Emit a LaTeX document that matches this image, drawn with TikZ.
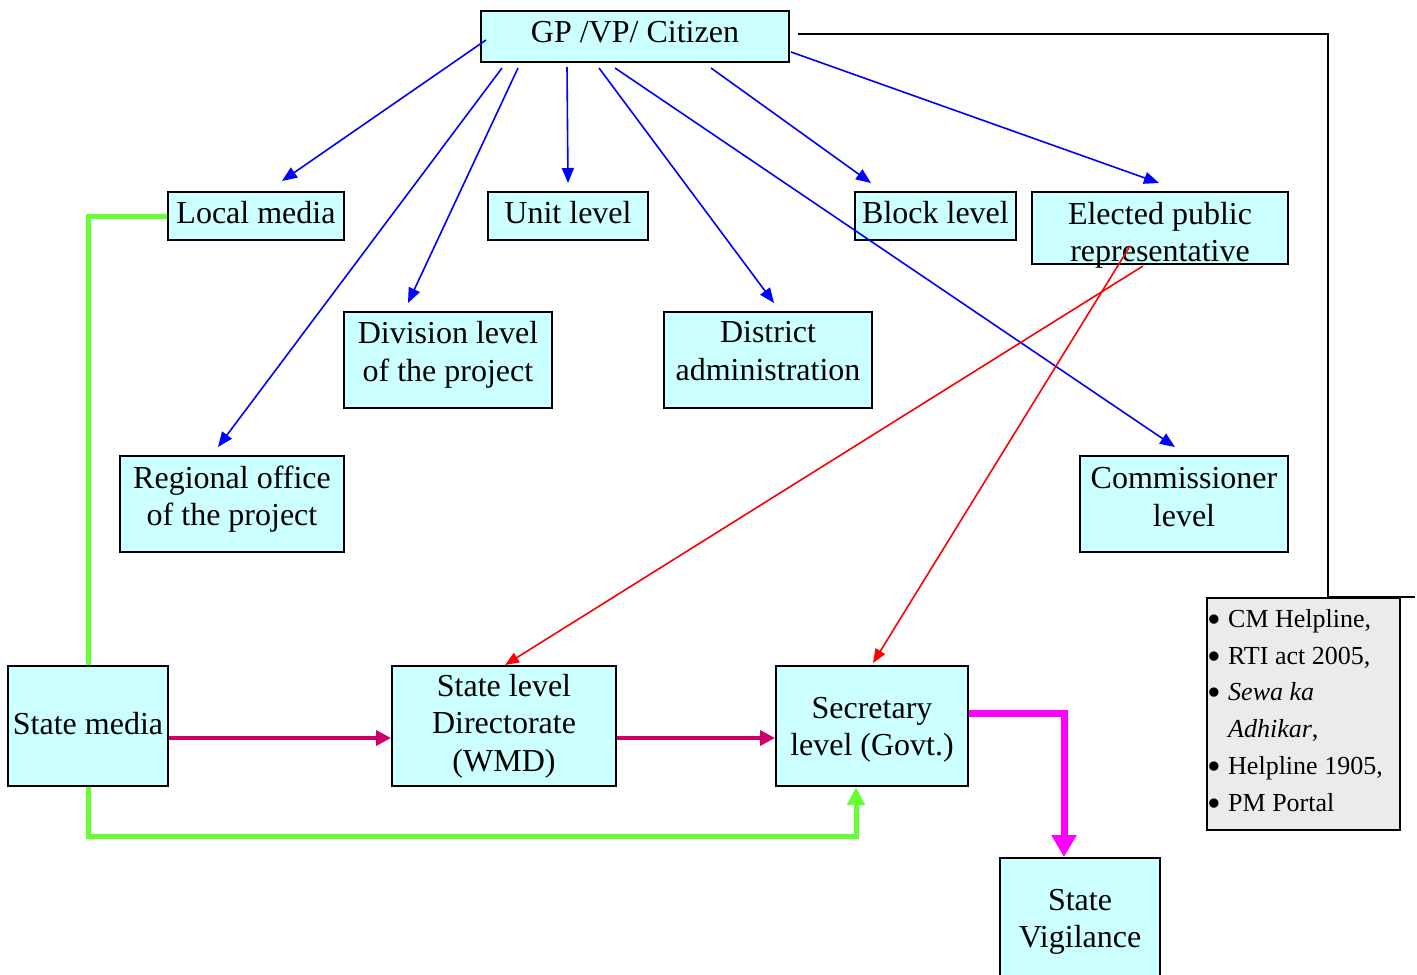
\documentclass[tikz,border=0pt]{standalone}
\usepackage{fontspec}
\setmainfont{Liberation Serif}
\usetikzlibrary{arrows.meta,calc}
\definecolor{boxfill}{HTML}{CCFFFF}
\definecolor{grayfill}{HTML}{EBEBEB}
\definecolor{crimson}{HTML}{CC0066}
\definecolor{lgreen}{HTML}{66FF33}
\definecolor{magen}{HTML}{FF00FF}
\newcommand{\bul}{\makebox[19pt][l]{\hspace*{-1.5pt}\raisebox{-5pt}{\scalebox{1.5}{\textbullet}}}}
\tikzset{
  bx/.style={draw=black, line width=2pt, fill=boxfill, inner sep=0pt},
  bxt/.style={inner sep=0pt, align=center, font=\fontsize{32}{37.5}\selectfont},
  bluearr/.style={draw=blue, line width=1.6pt, -{Triangle[length=15pt,width=12pt]}},
  redarr/.style={draw=red, line width=1.6pt, -{Triangle[length=14pt,width=11pt]}},
  crarr/.style={draw=crimson, line width=3.5pt, -{Triangle[length=15pt,width=15pt]}},
  grline/.style={draw=lgreen, line width=5pt},
  grarr/.style={draw=lgreen, line width=5pt, -{Triangle[length=18pt,width=17pt]}},
  magarr/.style={draw=magen, line width=7pt, -{Triangle[length=22pt,width=24pt]}},
}
\begin{document}
\begin{tikzpicture}[x=1pt,y=-1pt]
\clip (0,0) rectangle (1417,975);
\fill[white] (0,0) rectangle (1417,975);

\node[bx, minimum width=308pt, minimum height=51pt] (gp) at (635,36.5) {};
\node[bxt] (gpt) at ($(gp)+(0,-4)$) {GP /VP/ Citizen};
\node[bx, minimum width=176pt, minimum height=48pt] (local) at (256,216) {};
\node[bxt] (localt) at ($(local)+(0,-3)$) {Local media};
\node[bx, minimum width=160pt, minimum height=48pt] (unit) at (568,216) {};
\node[bxt] (unitt) at ($(unit)+(0,-3)$) {Unit level};
\node[bx, minimum width=161pt, minimum height=48pt] (block) at (935.5,216) {};
\node[bxt] (blockt) at ($(block)+(0,-3)$) {Block level};
\node[bx, minimum width=256pt, minimum height=72pt] (elected) at (1160,228) {};
\node[bxt] (electedt) at ($(elected)+(0,7.5)$) {Elected public\\representative};
\node[bx, minimum width=208pt, minimum height=96pt] (division) at (448,360) {};
\node[bxt] (divisiont) at ($(division)+(0,-5)$) {Division level\\of the project};
\node[bx, minimum width=208pt, minimum height=96pt] (district) at (768,360) {};
\node[bxt] (districtt) at ($(district)+(0,-9)$) {District\\administration};
\node[bx, minimum width=224pt, minimum height=96pt] (regional) at (232,504) {};
\node[bxt] (regionalt) at ($(regional)+(0,-5)$) {Regional office\\of the project};
\node[bx, minimum width=208pt, minimum height=96pt] (commissioner) at (1184,504) {};
\node[bxt] (commissionert) at ($(commissioner)+(0,-7)$) {Commissioner\\level};
\node[bx, minimum width=160pt, minimum height=120pt] (statemedia) at (88,726) {};
\node[bxt] (statemediat) at ($(statemedia)+(0,-2)$) {State media};
\node[bx, minimum width=224pt, minimum height=120pt] (directorate) at (504,726) {};
\node[bxt] (directoratet) at (directorate) {State level\\Directorate\\(WMD)};
\node[bx, minimum width=192pt, minimum height=120pt] (secretary) at (872,726) {};
\node[bxt] (secretaryt) at ($(secretary)+(0,4)$) {Secretary\\level (Govt.)};
\node[bx, minimum width=160pt, minimum height=124pt] (vigilance) at (1080,920) {};
\node[bxt] (vigilancet) at ($(vigilance)+(0,2)$) {State\\Vigilance};
\node[draw=black, line width=2pt, fill=grayfill, minimum width=193pt, minimum height=232pt, inner sep=0pt] (bullet) at (1303.5,714) {};
\node[anchor=north west, inner sep=0pt, align=left, font=\fontsize{26}{36.8}\selectfont] (bullettext) at (1209,609)
 {\bul CM Helpline,\\
  \bul RTI act 2005,\\
  \bul\textit{Sewa ka}\\
  \hspace*{19pt}\textit{Adhikar},\\
  \bul Helpline 1905,\\
  \bul PM Portal};

% black line to bullet box
\draw[black, line width=2pt] ($(gp.east)+(8,-2.5)$) -| ($(bullet.north)+(24.5,0)$) -- ++(87,0);

% blue arrows
\draw[bluearr] ($(gp.west)+(6,3.5)$) -- ($(local.north)+(26,-10)$);
\draw[bluearr] ($(gp.south west)+(22,5)$) -- ($(regional.north)+(-14,-8)$);
\draw[bluearr] ($(gp.south west)+(38,5)$) -- ($(division.north)+(-40,-8)$);
\draw[bluearr] ($(gp.south west)+(87,4)$) -- ($(unit.north)+(0,-8)$);
\draw[bluearr] ($(gp.south west)+(119,5)$) -- ($(district.north)+(6,-8)$);
\draw[bluearr] ($(gp.south west)+(135,5)$) -- ($(commissioner.north)+(-9,-8)$);
\draw[bluearr] ($(gp.south west)+(231,5)$) -- ($(block.north)+(-64.5,-8)$);
\draw[bluearr] ($(gp.east)+(1,15.5)$) -- ($(elected.north)+(-1,-8)$);

% red arrows
\draw[redarr] ($(elected.south)+(-17,1)$) -- ($(directorate.north)+(1,0)$);
\draw[redarr] ($(elected.south)+(-30,-19)$) -- ($(secretary.north)+(1,-2)$);

% crimson arrows
\draw[crarr] ($(statemedia.east)+(0,12)$) -- ($(directorate.west)+(0,12)$);
\draw[crarr] ($(directorate.east)+(0,12)$) -- ($(secretary.west)+(0,12)$);

% green
\draw[grline] (local.west) -| (statemedia.north);
\draw[grarr] (statemedia.south) |- ($(secretary.south)+(-16,49)$) -- ($(secretary.south)+(-16,0)$);

% magenta
\draw[magarr] ($(secretary.east)+(0,-13)$) -| ($(vigilance.north)+(-16,0)$);
\end{tikzpicture}
\end{document}
